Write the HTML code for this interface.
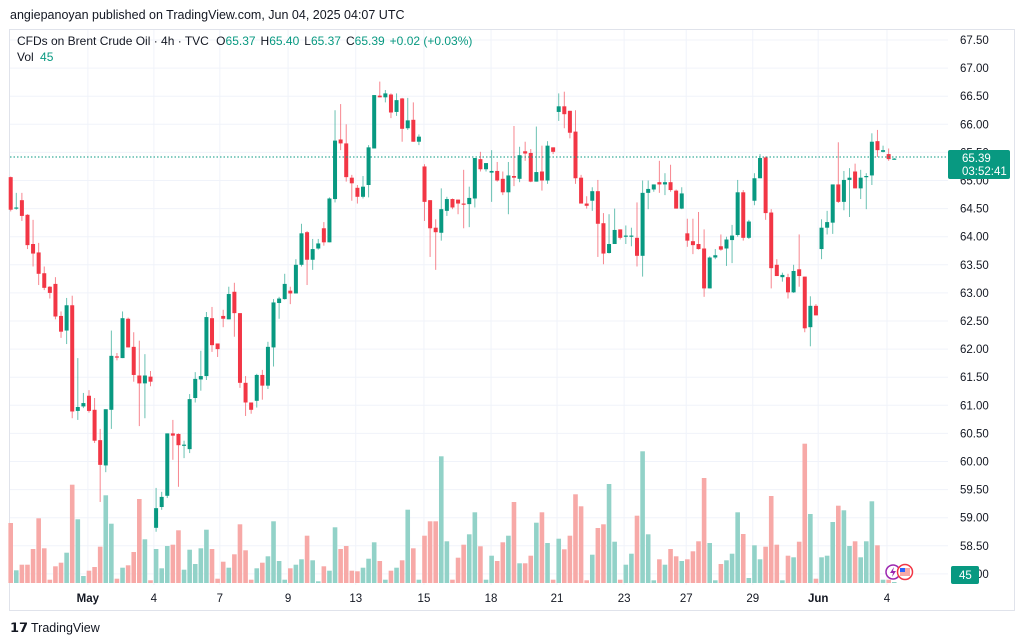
<!DOCTYPE html>
<html><head><meta charset="utf-8">
<style>
html,body{margin:0;padding:0;background:#fff;}
svg{display:block;font-family:"Liberation Sans",sans-serif;}
</style></head>
<body>
<svg id="chart" width="1024" height="642" viewBox="0 0 1024 642" xmlns="http://www.w3.org/2000/svg">
<rect x="0" y="0" width="1024" height="642" fill="#ffffff"/>
<text x="10" y="19" font-size="12.5" fill="#131722">angiepanoyan published on TradingView.com, Jun 04, 2025 04:07 UTC</text>
<rect x="9.5" y="29.5" width="1005" height="581" fill="none" stroke="#e0e3eb"/>
<g id="grid"></g>
<g id="volumes"></g>
<g id="candles"></g>
<line x1="10" x2="948" y1="157" y2="157" stroke="#089981" stroke-width="1" stroke-dasharray="1.5,2"/>
<g id="yaxis"></g>
<g id="xaxis"></g>
<text x="17" y="45" font-size="12" fill="#131722">CFDs on Brent Crude Oil · 4h · TVC <tspan dx="4">O</tspan><tspan fill="#089981">65.37</tspan><tspan dx="5">H</tspan><tspan fill="#089981">65.40</tspan><tspan dx="5">L</tspan><tspan fill="#089981">65.37</tspan><tspan dx="5">C</tspan><tspan fill="#089981">65.39</tspan><tspan dx="5" fill="#089981">+0.02 (+0.03%)</tspan></text>
<text x="17" y="61" font-size="12" fill="#131722">Vol <tspan dx="3" fill="#089981">45</tspan></text>
<g>
<rect x="948" y="150" width="62" height="29" rx="2" fill="#089981"/>
<text x="962" y="162" font-size="11.5" fill="#fff">65.39</text>
<text x="962" y="175" font-size="11.5" fill="#fff">03:52:41</text>
</g>
<g>
<rect x="951" y="566" width="28" height="18" rx="2" fill="#089981"/>
<text x="959" y="579" font-size="11.5" fill="#fff">45</text>
</g>
<g>
<circle cx="893" cy="572" r="7" fill="#fff" stroke="#9c27b0" stroke-width="1.5"/>
<path d="M894 567 L890 573 L893 573 L892 577 L896 571 L893 571 Z" fill="#9c27b0"/>
<circle cx="905" cy="572" r="7.5" fill="#fff" stroke="#f23645" stroke-width="1.5"/>
<rect x="900" y="568" width="10" height="8" fill="#f7a9a7"/>
<rect x="900" y="568" width="5" height="4" fill="#2962ff"/>
</g>
<g>
<text x="10" y="632" font-size="13" font-weight="bold" fill="#131722">𝟭𝟳</text>
<text x="31" y="632" font-size="12.5" fill="#131722">TradingView</text>
</g>
</svg>
<script>
const opens=[65.06,64.50,64.65,64.39,63.87,63.72,63.35,63.11,63.16,62.59,62.33,62.78,60.90,60.98,61.17,60.92,60.38,59.93,60.92,61.87,61.84,62.54,62.04,61.53,61.39,61.51,58.82,59.19,59.39,60.50,60.49,60.28,60.22,61.13,61.46,61.52,62.55,62.10,62.59,62.53,63.02,62.64,61.40,61.05,61.08,61.54,61.35,62.03,62.82,62.89,63.04,62.99,63.50,64.08,63.59,63.79,64.15,63.90,64.67,65.73,65.66,65.05,64.87,64.71,64.92,65.57,66.51,66.48,66.53,66.22,66.46,65.93,66.08,65.69,65.25,64.65,64.16,64.07,64.46,64.67,64.66,64.59,64.58,64.68,65.38,65.20,65.14,65.17,65.03,64.79,65.08,65.03,65.52,65.49,64.98,65.16,65.00,65.59,66.22,66.32,66.24,65.87,65.05,64.59,64.64,64.81,64.24,63.71,63.87,64.13,64.00,64.01,63.98,63.66,64.78,64.84,64.97,64.93,64.97,64.82,64.50,64.06,63.92,63.87,63.79,63.08,63.63,63.83,63.79,63.94,64.03,64.79,63.98,64.64,65.04,65.41,64.43,63.50,63.28,63.28,63.01,63.42,63.29,62.39,62.77,63.78,64.16,64.25,64.93,64.62,65.01,65.16,64.86,65.07,65.09,65.70,65.51,65.47,65.37];
const highs=[65.07,64.78,64.78,64.40,64.30,63.89,63.47,63.12,63.28,62.67,62.91,62.95,61.84,61.22,61.27,61.13,60.58,60.93,62.33,61.93,62.67,62.56,62.30,62.15,61.91,61.61,59.53,59.46,60.50,60.74,60.50,60.37,61.20,61.59,61.97,62.66,62.75,62.10,62.70,63.11,63.18,62.64,61.52,61.05,61.56,61.63,62.13,62.89,62.93,63.34,63.11,63.60,64.23,64.10,63.96,63.96,64.26,64.70,66.25,66.36,66.00,65.10,64.92,65.08,65.63,66.52,66.76,66.61,66.55,66.55,66.47,66.47,66.39,65.82,65.29,64.65,64.31,64.86,64.71,64.68,64.66,65.19,64.89,65.40,65.51,65.31,65.54,65.33,65.16,65.33,65.97,65.60,65.69,65.56,65.96,65.62,65.70,65.59,66.55,66.58,66.24,66.25,65.10,64.72,64.88,65.01,64.42,64.40,64.50,64.13,64.20,64.16,64.61,65.00,65.00,64.93,65.35,65.13,65.28,64.84,64.88,64.32,64.32,64.44,64.13,63.65,63.78,64.04,64.00,64.21,65.01,64.83,64.30,65.13,65.47,65.43,64.49,63.60,63.36,63.34,63.50,64.04,63.29,62.94,62.80,64.31,64.46,64.93,65.68,65.17,65.22,65.30,65.19,65.13,65.84,65.90,65.62,65.57,65.40];
const lows=[64.45,64.48,64.28,63.78,63.47,63.14,63.05,62.90,62.53,62.20,62.09,60.77,60.74,60.95,60.87,60.33,59.28,59.81,60.58,61.80,61.84,62.03,61.42,60.63,60.77,61.34,58.75,59.14,59.35,60.03,59.55,60.06,60.15,61.05,61.26,61.45,61.95,61.86,62.39,62.53,62.22,61.31,60.81,60.85,60.96,61.10,61.29,61.69,62.54,62.88,62.80,62.99,63.47,63.14,63.41,63.77,63.84,63.90,64.61,65.54,64.98,64.64,64.59,64.68,64.70,65.57,66.48,66.39,66.11,66.15,65.69,65.90,65.69,65.63,64.28,63.64,63.41,63.93,64.37,64.49,64.40,64.15,64.17,64.52,65.16,65.16,64.62,64.98,64.74,64.40,64.90,64.97,65.35,64.97,64.98,64.82,64.94,65.47,66.06,65.93,65.75,64.94,64.59,64.50,64.46,63.64,63.51,63.70,63.87,63.95,63.87,63.83,63.47,63.29,64.49,64.80,64.78,64.74,64.80,64.50,64.49,63.82,63.69,63.77,62.93,63.08,63.60,63.75,63.48,63.53,64.00,63.93,63.96,64.56,65.04,64.30,63.08,63.30,63.20,62.90,63.00,63.11,62.30,62.05,62.60,63.60,64.04,64.05,64.60,64.47,64.35,64.86,64.67,64.49,64.92,65.42,65.50,65.35,65.37];
const closes=[64.48,64.52,64.37,63.85,63.70,63.34,63.09,63.00,62.58,62.31,62.78,60.89,60.97,61.04,60.90,60.37,59.94,60.93,61.88,61.86,62.55,62.03,61.54,61.39,61.53,61.42,59.17,59.37,60.50,60.46,60.29,60.30,61.11,61.47,61.52,62.57,62.07,62.00,62.54,62.98,62.64,61.40,61.05,60.92,61.54,61.35,62.04,62.83,62.90,63.16,62.99,63.50,64.06,63.59,63.78,63.88,63.90,64.68,65.71,65.66,65.06,64.95,64.71,64.89,65.59,66.52,66.48,66.55,66.21,66.43,65.92,66.07,65.69,65.78,64.62,64.15,64.08,64.49,64.67,64.52,64.59,64.58,64.69,65.40,65.20,65.31,65.17,65.00,64.79,65.09,65.05,65.45,65.48,64.98,65.15,65.00,65.62,65.51,66.32,66.18,65.85,65.04,64.59,64.55,64.81,64.23,63.70,63.87,64.12,63.98,64.02,64.02,63.66,64.78,64.85,64.93,64.93,64.97,64.83,64.50,64.77,63.93,63.85,63.78,63.08,63.63,63.67,63.77,63.95,64.02,64.79,63.98,64.27,65.04,65.40,64.42,63.44,63.30,63.32,63.01,63.39,63.30,62.37,62.77,62.60,64.16,64.26,64.93,64.62,65.01,65.05,64.86,65.05,65.08,65.69,65.54,65.54,65.38,65.39];
const volumes=[60,12.7,18.3,18.3,34,64.7,34.7,3.3,16.7,20.3,30.3,98.3,63.7,7,12.3,16,36.3,87.7,59.3,4.3,15.3,17.7,31,84,43.7,2.7,34,14.7,37,38.3,52.7,13.3,33.3,19,34.7,53.3,34,4.3,21.3,15.3,28.7,58.7,32.7,3.3,14.7,20.3,26.7,61.7,22,3.3,14.7,18.3,23.7,47.3,22.7,1.7,16.7,12.3,55.7,34,37,12.3,11.7,15.3,24.3,40.7,22,3.3,12.3,15.3,22.7,73.3,34.7,3.3,47.3,61.7,61.7,126.7,41.7,3.3,25.3,38.3,48.7,70.7,36.7,3.3,27.3,22,40.7,47.3,81,19.7,19.7,27.3,60.3,70.7,40,3.3,44.3,33.7,47.3,88.7,76.7,2.7,28.3,55,58.7,99,41.3,3.3,18.3,29.3,67.3,131.7,48.7,2.7,23.7,18.3,34,26.7,22,23.7,31.7,41.7,105,40,2.7,19,22.7,29.3,70.7,49,5,37.7,23.7,36.3,87,38.3,2.7,27.3,25.7,41.3,139.3,69,4.3,25.7,27.3,61,77.3,72.7,37,41.7,25.7,41.7,81.7,37.7,3.3,3.3,1];
const priceTicks=["67.50","67.00","66.50","66.00","65.50","65.00","64.50","64.00","63.50","63.00","62.50","62.00","61.50","61.00","60.50","60.00","59.50","59.00","58.50","58.00"];
const timeLabels=["May","4","7","9","13","15","18","21","23","27","29","Jun","4"];
const timeIndex=[13.8,25.6,37.4,49.6,61.7,73.9,85.9,97.7,109.7,120.8,132.7,144.4,156.7];
const boldLabels=["May","Jun"];

const NS="http://www.w3.org/2000/svg";
function xAt(i){return 10.7+i*5.592;}
function yP(p){return 40+(67.5-p)*56.2;}
function yV(v){return 583-v;}
function mk(tag,attrs,parent){const e=document.createElementNS(NS,tag);for(const k in attrs)e.setAttribute(k,attrs[k]);parent.appendChild(e);return e;}

const grid=document.getElementById('grid');
priceTicks.forEach(t=>{
  const l=mk('line',{x1:10,x2:948,y1:yP(+t),y2:yP(+t),stroke:'#f0f3fa','stroke-width':1},grid);
  
  
});
timeIndex.forEach(ix=>{
  const l=mk('line',{x1:xAt(ix),x2:xAt(ix),y1:30,y2:585,stroke:'#f0f3fa','stroke-width':1},grid);
  
  
});

const yax=document.getElementById('yaxis');
priceTicks.forEach(t=>{
  const tx=mk('text',{x:960,y:yP(+t)+4,'font-size':11.5,fill:'#131722'},yax);
  tx.textContent=t;
  
  
});
const xax=document.getElementById('xaxis');
timeLabels.forEach((t,i)=>{
  const tx=mk('text',{x:xAt(timeIndex[i]),y:602,'font-size':11.5,fill:'#131722','text-anchor':'middle','font-weight':boldLabels.includes(t)?'bold':'normal'},xax);
  tx.textContent=t;
  
  
});

const vg=document.getElementById('volumes');
volumes.forEach((v,i)=>{
  const up=closes[i]>=opens[i];
  const r=mk('rect',{x:xAt(i)-2.3,y:yV(v),width:4.6,height:Math.max(583-yV(v),0.5),fill:up?'#92d2c8':'#f7a9a7'},vg);
  
  
});

const cg=document.getElementById('candles');
opens.forEach((o,i)=>{
  const c=closes[i],up=c>=o,col=up?'#089981':'#f23645';
  const g=mk('g',{},cg);
  
  
  mk('line',{x1:xAt(i),x2:xAt(i),y1:yP(highs[i]),y2:yP(lows[i]),stroke:col,'stroke-width':1,'stroke-opacity':0.6},g);
  const top=yP(Math.max(o,c)),bot=yP(Math.min(o,c));
  mk('rect',{x:xAt(i)-2,y:top,width:4,height:Math.max(bot-top,1.2),fill:col},g);
});
</script>
</body></html>
